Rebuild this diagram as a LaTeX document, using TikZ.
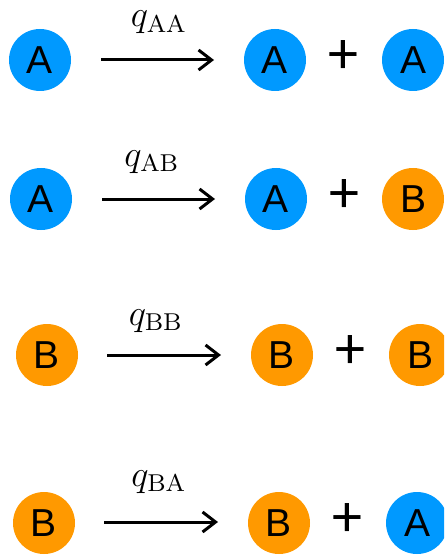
\documentclass[tikz,border=0pt]{standalone}
\usepackage{graphicx}
\usepackage{fontspec}
\newfontfamily\arialfont{Liberation Sans}
\newfontfamily\plusfont{Carlito}
\usetikzlibrary{arrows.meta}
\definecolor{cblue}{RGB}{0,153,255}
\definecolor{corange}{RGB}{255,153,0}
\newcommand{\ratelabel}[1]{\scalebox{3.05}{$q_{\mathrm{#1}}$}}
\tikzset{
  ball/.style={circle,minimum size=62pt,inner sep=0pt,font=\arialfont\fontsize{39}{39}\selectfont},
  aball/.style={ball,fill=cblue},
  bball/.style={ball,fill=corange},
  plussign/.style={inner sep=0pt,font=\plusfont\fontsize{60}{60}\selectfont},
  rate/.style={inner sep=0pt,font=\fontsize{12}{14}\selectfont},
  react/.style={line width=3pt,-{Straight Barb[length=13pt,width=20pt,line width=3pt]}}
}
\begin{document}
\begin{tikzpicture}[x=1pt,y=-1pt]
\clip (0,0) rectangle (444,556);
\useasboundingbox (0,0) rectangle (444,556);
% row 1
\node[aball] (r1a) at (40,60) {A};
\coordinate (r1s) at (101,60);
\coordinate (r1e) at (214,60);
\draw[react] (r1s) -- (r1e);
\node[rate] (r1q) at (159,22.5) {\ratelabel{AA}};
\node[aball] (r1b) at (275,60) {A};
\node[plussign] (r1p) at (343.5,57) {+};
\node[aball] (r1c) at (413,60) {A};
% row 2
\node[aball] (r2a) at (41,199) {A};
\coordinate (r2s) at (102,199);
\coordinate (r2e) at (215,199);
\draw[react] (r2s) -- (r2e);
\node[rate] (r2q) at (152,162) {\ratelabel{AB}};
\node[aball] (r2b) at (276,199) {A};
\node[plussign] (r2p) at (344,196) {+};
\node[bball] (r2c) at (413,199) {B};
% row 3
\node[bball] (r3a) at (47,355) {B};
\coordinate (r3s) at (107,355);
\coordinate (r3e) at (221,355);
\draw[react] (r3s) -- (r3e);
\node[rate] (r3q) at (156,321) {\ratelabel{BB}};
\node[bball] (r3b) at (282,355) {B};
\node[plussign] (r3p) at (350,352) {+};
\node[bball] (r3c) at (420,355) {B};
% row 4
\node[bball] (r4a) at (44,523) {B};
\coordinate (r4s) at (104,522);
\coordinate (r4e) at (218,522);
\draw[react] (r4s) -- (r4e);
\node[rate] (r4q) at (159,482) {\ratelabel{BA}};
\node[bball] (r4b) at (279,523) {B};
\node[plussign] (r4p) at (347,520) {+};
\node[aball] (r4c) at (417,523) {A};
\end{tikzpicture}
\end{document}
